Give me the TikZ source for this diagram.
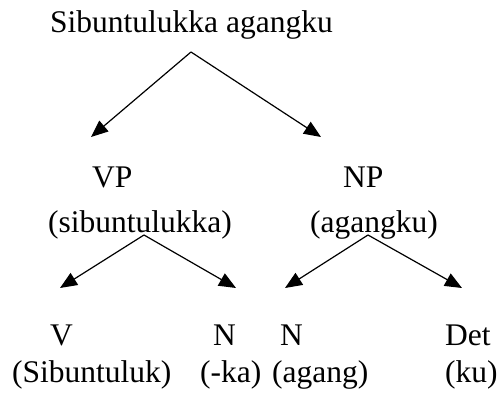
\documentclass[tikz,border=0pt]{standalone}
\usepackage{fontspec}
\setmainfont{Liberation Serif}
\usetikzlibrary{arrows.meta}

\begin{document}
\begin{tikzpicture}[x=1pt,y=-1pt,
	lbl/.style={anchor=base west,inner sep=0pt,font=\fontsize{31.5}{36}\selectfont},
	branch/.style={-{Triangle[length=17pt,width=14pt]},line width=1.2pt}]
	\useasboundingbox (0,0) rectangle (499,396);
	% labels
	\node[lbl] (sent) at (50,33) {Sibuntulukka agangku};
	\node[lbl] (vp) at (92,188) {VP};
	\node[lbl] (np) at (343,188) {NP};
	\node[lbl] (vpword) at (48,233) {(sibuntulukka)};
	\node[lbl] (npword) at (310,233) {(agangku)};
	\node[lbl] (v) at (50,345) {V};
	\node[lbl] (n1) at (213,345) {N};
	\node[lbl] (n2) at (280,345) {N};
	\node[lbl] (det) at (445,345) {Det};
	\node[lbl] (vword) at (12,382) {(Sibuntuluk)};
	\node[lbl] (n1word) at (200,382) {(-ka)};
	\node[lbl] (n2word) at (272,382) {(agang)};
	\node[lbl] (detword) at (445,382) {(ku)};
	% forks and tips
	\coordinate (sfork) at (191,52);
	\coordinate (vpfork) at (144,235);
	\coordinate (npfork) at (368,235);
	\coordinate (vptip) at (91,137);
	\coordinate (nptip) at (321,137);
	\coordinate (vtip) at (60,288);
	\coordinate (n1tip) at (236,288);
	\coordinate (n2tip) at (285,288);
	\coordinate (dettip) at (462,288);
	\draw[branch] (sfork) -- (vptip);
	\draw[branch] (sfork) -- (nptip);
	\draw[branch] (vpfork) -- (vtip);
	\draw[branch] (vpfork) -- (n1tip);
	\draw[branch] (npfork) -- (n2tip);
	\draw[branch] (npfork) -- (dettip);
\end{tikzpicture}
\end{document}
